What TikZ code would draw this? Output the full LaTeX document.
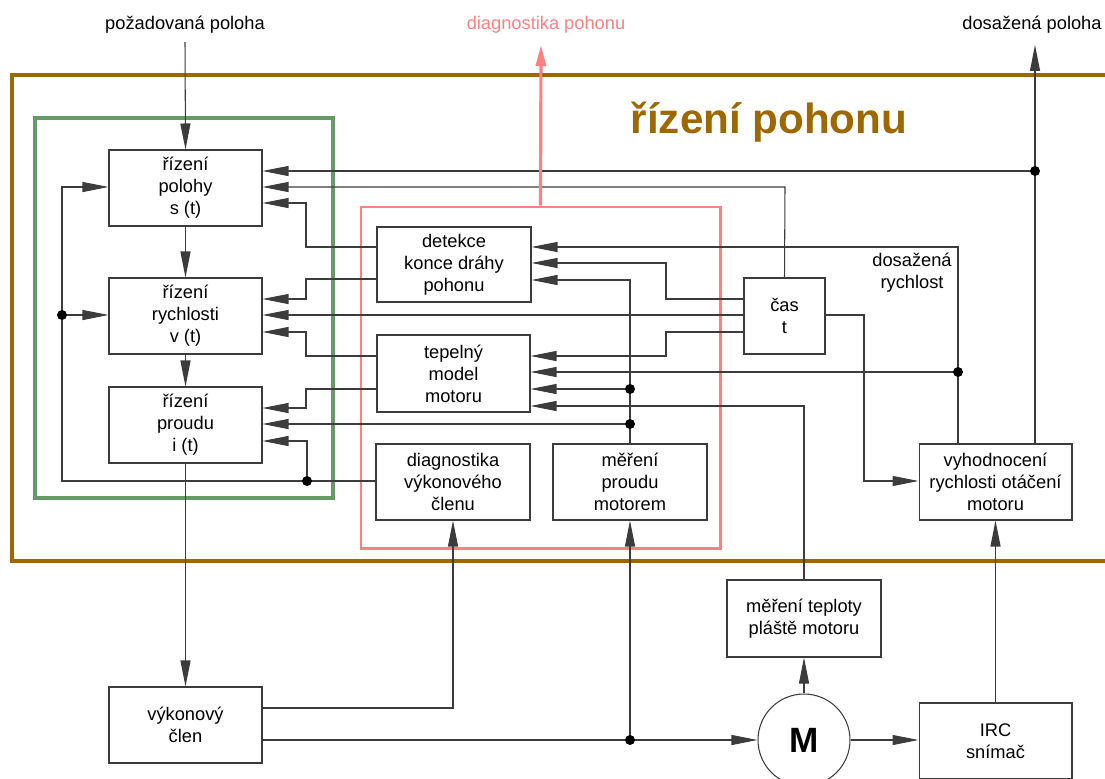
\documentclass[tikz,border=0pt]{standalone}
\usepackage{fontspec}
\setmainfont{Liberation Sans}
\usetikzlibrary{arrows.meta,fit}
\definecolor{brn}{RGB}{158,104,0}
\definecolor{grn}{RGB}{100,155,100}
\definecolor{pnk}{RGB}{255,128,128}
\definecolor{lnc}{RGB}{60,60,60}
\newcommand\blkfont{\fontsize{10.4pt}{12.5pt}\selectfont}
\begin{document}
\begin{tikzpicture}[x=0.02cm,y=-0.02cm,
  blk/.style={draw=lnc, line width=0.6pt, inner sep=0pt, align=center, font=\blkfont,
              minimum width=3.06cm, minimum height=1.52cm},
  lbl/.style={inner sep=0pt, align=center, font=\blkfont},
  ln/.style={draw=lnc, line width=0.6pt},
  arr/.style={ln, -{Triangle[length=0.52cm,width=0.2cm]}},
  pinkarr/.style={draw=pnk, line width=1.8pt, -{Triangle[length=0.42cm,width=0.2cm]}},
  dotc/.style={circle, fill=black, inner sep=0pt, minimum size=0.2cm},
  frm/.style={inner sep=0pt}
]
\useasboundingbox (0,0) rectangle (1105,778);

% frames
\node[frm, draw=brn, line width=2.3pt, fit={(12,75)(1125,561)}] (outer) {};
\node[frm, draw=grn, line width=1.8pt, fit={(35,118)(333,498)}] (green) {};
\node[frm, draw=pnk, line width=1.7pt, fit={(361,207)(720,548)}] (red) {};

\node[anchor=base, text=brn, font=\fontsize{24pt}{28pt}\selectfont\bfseries] (ttl) at (769,133) {řízení pohonu};

% labels
\node[lbl, anchor=base] (inp) at (185,29) {požadovaná poloha};
\node[lbl, anchor=base, text=pnk] (diag) at (546,29) {diagnostika pohonu};
\node[lbl, anchor=base] (outp) at (1032,29) {dosažená poloha};
\node[lbl] (dr) at (912,273) {dosažená\\rychlost};

% blocks
\node[blk] (polohy) at (185.5,188) {řízení\\polohy\\s (t)};
\node[blk] (rychl) at (185.5,316) {řízení\\rychlosti\\v (t)};
\node[blk] (proud) at (185.5,425) {řízení\\proudu\\i (t)};
\node[blk, minimum width=3.08cm, minimum height=1.5cm] (det) at (454,264.5) {detekce\\konce dráhy\\pohonu};
\node[blk, minimum height=1.54cm] (tep) at (453.5,373.5) {tepelný\\model\\motoru};
\node[blk, minimum width=3.08cm] (diagv) at (453,482) {diagnostika\\výkonového\\členu};
\node[blk, minimum width=3.08cm] (mer) at (630,482) {měření\\proudu\\motorem};
\node[blk, minimum width=1.62cm] (cas) at (784.5,316) {čas\\t};
\node[blk] (vyh) at (995.5,482) {vyhodnocení\\rychlosti otáčení\\motoru};
\node[blk, minimum width=3.08cm, minimum height=1.54cm] (tepl) at (804,618.5) {měření teploty\\pláště motoru};
\node[blk] (vyk) at (185.5,725) {výkonový\\člen};
\node[blk] (irc) at (995.5,741) {IRC\\snímač};
\node[draw=lnc, line width=0.6pt, circle, minimum size=1.84cm, inner sep=0pt,
      font=\fontsize{20pt}{24pt}\selectfont\bfseries] (M) at (804,740) {M};

% coordinates for free ends
\coordinate (inpc) at (185,42);
\coordinate (diagc) at (541,45);
\coordinate (outc) at (1035,45);

% main chain
\draw[arr] (inpc) -- (polohy.north);
\draw[arr] (polohy.south) -- (rychl.north);
\draw[arr] (rychl.south) -- (proud.north);
\draw[arr] (proud.south) -- (vyk.north);

% diagnostika feedback
\draw[arr] (diagv.west |- 0,481) -- (62,481) -- (62,187) -- (polohy.west |- 0,187);
\draw[arr] (62,315) -- (rychl.west |- 0,315);
\draw[arr] (307,481) -- (307,441) -- (proud.east |- 0,441);
\node[dotc] (d1) at (62,315) {};
\node[dotc] (d2) at (307,481) {};

% tepelny model outputs
\draw[arr] (tep.west |- 0,389) -- (306,389) -- (306,408) -- (proud.east |- 0,408);
\draw[arr] (tep.west |- 0,356) -- (306,356) -- (306,332) -- (rychl.east |- 0,332);

% detekce outputs
\draw[arr] (det.west |- 0,279) -- (306,279) -- (306,299) -- (rychl.east |- 0,299);
\draw[arr] (det.west |- 0,247) -- (306,247) -- (306,203) -- (polohy.east |- 0,203);

% mereni proudu
\draw[arr] (mer.north) -- (630,280) -- (det.east |- 0,280);
\draw[arr] (630,389) -- (tep.east |- 0,389);
\draw[arr] (630,424) -- (proud.east |- 0,424);
\node[dotc] (d3) at (630,389) {};
\node[dotc] (d4) at (630,424) {};

% cas
\draw[arr] (cas.north) -- (785,187) -- (polohy.east |- 0,187);
\draw[arr] (cas.west |- 0,315) -- (rychl.east |- 0,315);
\draw[arr] (cas.west |- 0,299) -- (666,299) -- (666,263) -- (det.east |- 0,263);
\draw[arr] (cas.west |- 0,332) -- (666,332) -- (666,356) -- (tep.east |- 0,356);
\draw[arr] (cas.east |- 0,315) -- (864,315) -- (864,481) -- (vyh.west |- 0,481);

% dosazena rychlost
\draw[arr] (vyh.north -| 958,0) -- (958,247) -- (det.east |- 0,247);
\draw[arr] (958,372) -- (tep.east |- 0,372);
\node[dotc] (d5) at (958,372) {};

% dosazena poloha
\draw[arr] (vyh.north -| 1035,0) -- (outc);
\draw[arr] (1035,171) -- (polohy.east |- 0,171);
\node[dotc] (d6) at (1035,171) {};

% teplota
\draw[arr] (tepl.north) -- (804,406) -- (tep.east |- 0,406);

% motor
\draw[arr] (M.north) -- (tepl.south);
\draw[arr] (M.east) -- (irc.west |- M.east);
\draw[arr] (irc.north) -- (vyh.south);

% vykonovy clen
\draw[arr] (vyk.east |- 0,740) -- (M.west);
\draw[arr] (630,740) -- (mer.south);
\node[dotc] (d7) at (630,740) {};
\draw[arr] (vyk.east |- 0,708) -- (453,708) -- (diagv.south);

% diagnostika pohonu
\draw[pinkarr] (red.north) -- (diagc);
\end{tikzpicture}
\end{document}
